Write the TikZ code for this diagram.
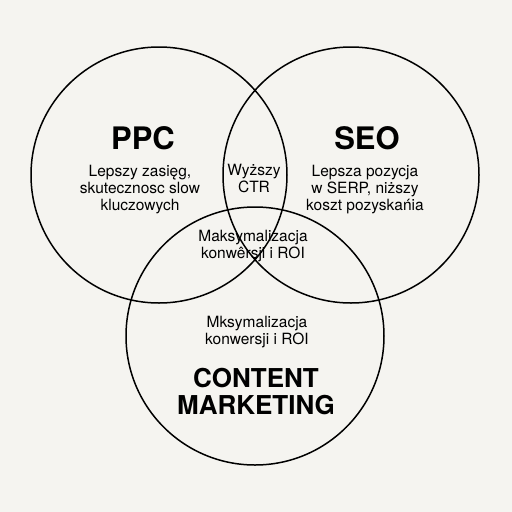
\documentclass[tikz,border=0pt]{standalone}
\usepackage{fontspec}
\setmainfont{TeX Gyre Heros}
\usepackage{tikz}
\usetikzlibrary{calc,positioning}
\definecolor{paper}{HTML}{F5F4F0}

\tikzset{
  venn/.style={draw=black,line width=1.5pt},
  title/.style={font=\bfseries\fontsize{31}{34}\selectfont},
  body/.style={align=center,font=\fontsize{15.5}{17}\selectfont},
}

\begin{document}
\begin{tikzpicture}[x=1pt,y=-1pt,line width=0.8pt]
\useasboundingbox (0,0) rectangle (512,512);
\fill[paper] (0,0) rectangle (512,512);
\coordinate (PPCC) at (159,175);
\coordinate (SEOC) at (351,175);
\coordinate (CMC) at (255,336);
%the circles
\draw[venn] (PPCC) circle[radius=128pt];
\draw[venn] (SEOC) circle[radius=128pt];
\draw[venn] (CMC) circle[radius=129pt];
%titles
\node[title] (PPC) at (143,138) {PPC};
\node[title] (SEO) at (367,138) {SEO};
\node[title,font=\bfseries\fontsize{26}{27}\selectfont,align=center] (CM) at (256,392) {CONTENT\\MARKETING};
%texts
\node[body] (PPCTXT) at (140,190) {Lepszy zasięg,\\skutecznosc slow\\kluczowych};
\node[body] (SEOTXT) at (365,190) {Lepsza pozycja\\w SERP, niższy\\koszt pozyskańia};
\node[body] (CTR) at (254,178) {Wyższy\\CTR};
\node[body] (ROI) at (253,246) {Maksymalizacja\\konwêrsji i ROI};
\node[body] (CMTXT) at (257,332) {Mksymalizacja\\konwersji i ROI};
\end{tikzpicture}
\end{document}
